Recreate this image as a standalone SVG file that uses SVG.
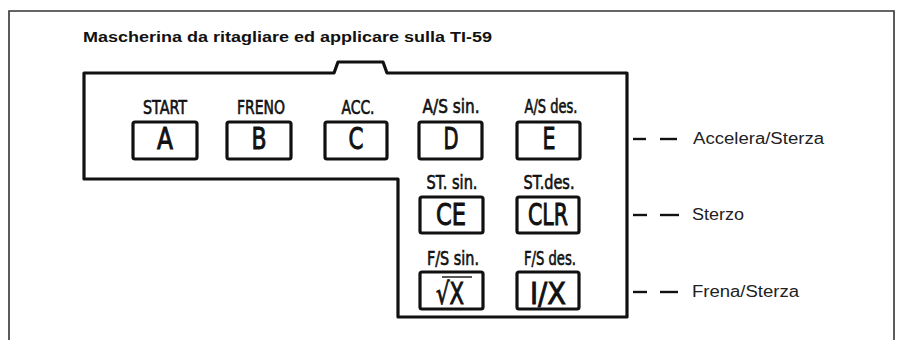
<svg xmlns="http://www.w3.org/2000/svg" width="903" height="340" viewBox="0 0 903 340">
<style>
.frame{fill:none;stroke:#333;stroke-width:1.6}
.mask{fill:none;stroke:#111;stroke-width:3.2;stroke-linejoin:round}
.key{fill:#fff;stroke:#111;stroke-width:3.2}
.lbl{font-family:"DejaVu Sans Condensed","DejaVu Sans",sans-serif;font-stretch:condensed;font-size:19px;fill:#111;stroke:#111;stroke-width:0.6;text-anchor:middle}
.kt{font-family:"DejaVu Sans Condensed","DejaVu Sans",sans-serif;font-stretch:condensed;font-size:30px;fill:#111;stroke:#111;stroke-width:0.9;text-anchor:middle}
.title{font-family:"Liberation Sans",Arial,sans-serif;font-weight:bold;font-size:14.5px;fill:#111}
.leg{font-family:"Liberation Sans",Arial,sans-serif;font-size:16px;fill:#222}
.dash{stroke:#111;stroke-width:2.4}
</style>
<rect x="0" y="0" width="903" height="340" fill="#fff"/>
<path class="frame" d="M9,345 V11 H894 V345"/>
<text class="title" x="83" y="42" textLength="409" lengthAdjust="spacingAndGlyphs">Mascherina da ritagliare ed applicare sulla TI-59</text>
<path id="mask" class="mask" d="M84,179 V73 H334 L338,62 H383 L387,73 H627 V317 H398 V179 Z"/>
<g id="key-A"><text class="lbl" x="165" y="114" textLength="44" lengthAdjust="spacingAndGlyphs">START</text><rect class="key" x="133" y="122" width="64" height="37" rx="2"/><text class="kt" x="165" y="149" textLength="16" lengthAdjust="spacingAndGlyphs">A</text></g>
<g id="key-B"><text class="lbl" x="261" y="114" textLength="48" lengthAdjust="spacingAndGlyphs">FRENO</text><rect class="key" x="227" y="122" width="64" height="37" rx="2"/><text class="kt" x="259" y="149" textLength="15" lengthAdjust="spacingAndGlyphs">B</text></g>
<g id="key-C"><text class="lbl" x="358" y="114" textLength="33" lengthAdjust="spacingAndGlyphs">ACC.</text><rect class="key" x="325" y="122" width="62" height="37" rx="2"/><text class="kt" x="356" y="149" textLength="15" lengthAdjust="spacingAndGlyphs">C</text></g>
<g id="key-D"><text class="lbl" x="451" y="113" textLength="57" lengthAdjust="spacingAndGlyphs">A/S sin.</text><rect class="key" x="419" y="122" width="63" height="37" rx="2"/><text class="kt" x="451" y="149" textLength="15" lengthAdjust="spacingAndGlyphs">D</text></g>
<g id="key-E"><text class="lbl" x="551" y="113" textLength="53" lengthAdjust="spacingAndGlyphs">A/S des.</text><rect class="key" x="517" y="122" width="63" height="37" rx="2"/><text class="kt" x="549" y="149" textLength="13" lengthAdjust="spacingAndGlyphs">E</text></g>
<g id="key-CE"><text class="lbl" x="452" y="189" textLength="51" lengthAdjust="spacingAndGlyphs">ST. sin.</text><rect class="key" x="420" y="197" width="63" height="36" rx="2"/><text class="kt" x="451" y="225" textLength="30" lengthAdjust="spacingAndGlyphs">CE</text></g>
<g id="key-CLR"><text class="lbl" x="549" y="189" textLength="51" lengthAdjust="spacingAndGlyphs">ST.des.</text><rect class="key" x="517" y="197" width="62" height="36" rx="2"/><text class="kt" x="548" y="225" textLength="40" lengthAdjust="spacingAndGlyphs">CLR</text></g>
<g id="key-sqrt"><text class="lbl" x="453" y="265" textLength="52" lengthAdjust="spacingAndGlyphs">F/S sin.</text><rect class="key" x="420" y="272" width="63" height="37" rx="2"/><text class="kt" x="450" y="304" textLength="28" lengthAdjust="spacingAndGlyphs">√X</text><line x1="442" y1="277" x2="472" y2="277" stroke="#111" stroke-width="1.4"/></g>
<g id="key-inv"><text class="lbl" x="550" y="265" textLength="52" lengthAdjust="spacingAndGlyphs">F/S des.</text><rect class="key" x="517" y="272" width="62" height="37" rx="2"/><text class="kt" x="548" y="304" textLength="36" lengthAdjust="spacingAndGlyphs">I/X</text></g>
<g id="connectors">
<line class="dash" x1="633" y1="139" x2="646" y2="139"/><line class="dash" x1="660" y1="139" x2="677" y2="139"/>
<line class="dash" x1="633" y1="215" x2="647" y2="215"/><line class="dash" x1="660" y1="215" x2="679" y2="215"/>
<line class="dash" x1="633" y1="292" x2="647" y2="292"/><line class="dash" x1="660" y1="292" x2="678" y2="292"/>
</g>
<g id="legend">
<text class="leg" x="693" y="144" textLength="131" lengthAdjust="spacingAndGlyphs">Accelera/Sterza</text>
<text class="leg" x="692" y="220" textLength="52" lengthAdjust="spacingAndGlyphs">Sterzo</text>
<text class="leg" x="692" y="297" textLength="107" lengthAdjust="spacingAndGlyphs">Frena/Sterza</text>
</g>
</svg>
